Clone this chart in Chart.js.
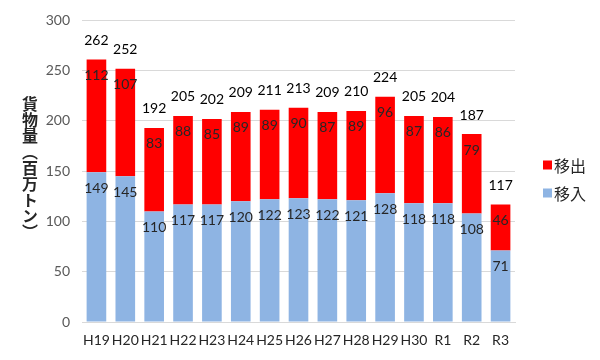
<!DOCTYPE html>
<html>
<head>
<meta charset="utf-8">
<script src="https://cdn.jsdelivr.net/npm/chart.js@4/dist/chart.umd.min.js"></script>
<style>
  html, body { margin: 0; padding: 0; background: #fff; }
  #wrap { position: relative; width: 600px; height: 360px; }
  #ytitle {
    position: absolute; left: 22px; top: 96px;
    writing-mode: vertical-rl; font: bold 16px "Noto Sans CJK JP", sans-serif;
    line-height: 1; color: #262626; letter-spacing: 0px;
  }
</style>
</head>
<body>
<div id="wrap">
  <canvas id="c" width="600" height="360"></canvas>
  <div id="ytitle">貨物量（百万トン）</div>
</div>
<script>
const categories = ["H19","H20","H21","H22","H23","H24","H25","H26","H27","H28","H29","H30","R1","R2","R3"];
const inbound  = [149,145,110,117,117,120,122,123,122,121,128,118,118,108,71];   // 移入
const outbound = [112,107,83,88,85,89,89,90,87,89,96,87,86,79,46];                // 移出
const totals   = [262,252,192,205,202,209,211,213,209,210,224,205,204,187,117];
const seriesNames = ["移入","移出"];
const yTicks = [0,50,100,150,200,250,300];

const FONT = "Lato, 'Liberation Sans', sans-serif";

const labelPlugin = {
  id: 'labels',
  afterDatasetsDraw(chart) {
    const ctx = chart.ctx;
    ctx.save();
    ctx.textAlign = 'center';
    ctx.textBaseline = 'middle';
    ctx.font = "14px " + FONT;
    chart.data.datasets.forEach((ds, di) => {
      const meta = chart.getDatasetMeta(di);
      meta.data.forEach((bar, i) => {
        ctx.fillStyle = '#262626';
        ctx.fillText(String(ds.data[i]), bar.x, bar.y + 16);
      });
    });
    const top = chart.getDatasetMeta(chart.data.datasets.length - 1);
    top.data.forEach((bar, i) => {
      ctx.fillStyle = '#000000';
      ctx.fillText(String(totals[i]), bar.x, bar.y - 19);
    });
    // legend (reverse order)
    ctx.textAlign = 'left';
    ctx.font = "16px 'Noto Sans CJK JP', sans-serif";
    const items = chart.data.datasets.slice().reverse();
    items.forEach((ds, k) => {
      const y = 165 + k * 28;
      ctx.fillStyle = ds.backgroundColor;
      ctx.fillRect(543, y - 4.5, 9, 9);
      ctx.fillStyle = '#262626';
      ctx.fillText(ds.label, 554, y + 1);
    });
    ctx.restore();
  }
};

new Chart(document.getElementById('c'), {
  type: 'bar',
  data: {
    labels: categories,
    datasets: [
      { label: seriesNames[0], data: inbound, backgroundColor: '#8EB4E3', barPercentage: 0.68, categoryPercentage: 1.0 },
      { label: seriesNames[1], data: outbound, backgroundColor: '#FF0000', barPercentage: 0.68, categoryPercentage: 1.0 }
    ]
  },
  options: {
    responsive: false,
    animation: false,
    layout: { padding: { top: 19, right: 85, left: 0, bottom: 0 } },
    plugins: { legend: { display: false }, tooltip: { enabled: false } },
    scales: {
      x: {
        stacked: true,
        grid: { display: false, drawTicks: false },
        border: { display: true, color: '#d9d9d9' },
        ticks: { color: '#262626', font: { family: FONT, size: 14 }, padding: 10, maxRotation: 0, autoSkip: false },
        afterFit(s) { s.height = 38; }
      },
      y: {
        stacked: true,
        min: 0, max: 300,
        afterBuildTicks(s) { s.ticks = yTicks.map(v => ({ value: v })); },
        grid: { color: '#d9d9d9', drawTicks: false },
        border: { display: false },
        ticks: { color: '#595959', font: { family: FONT, size: 14 }, padding: 12 },
        afterFit(s) { s.width = 82; }
      }
    }
  },
  plugins: [labelPlugin]
});
</script>
</body>
</html>
